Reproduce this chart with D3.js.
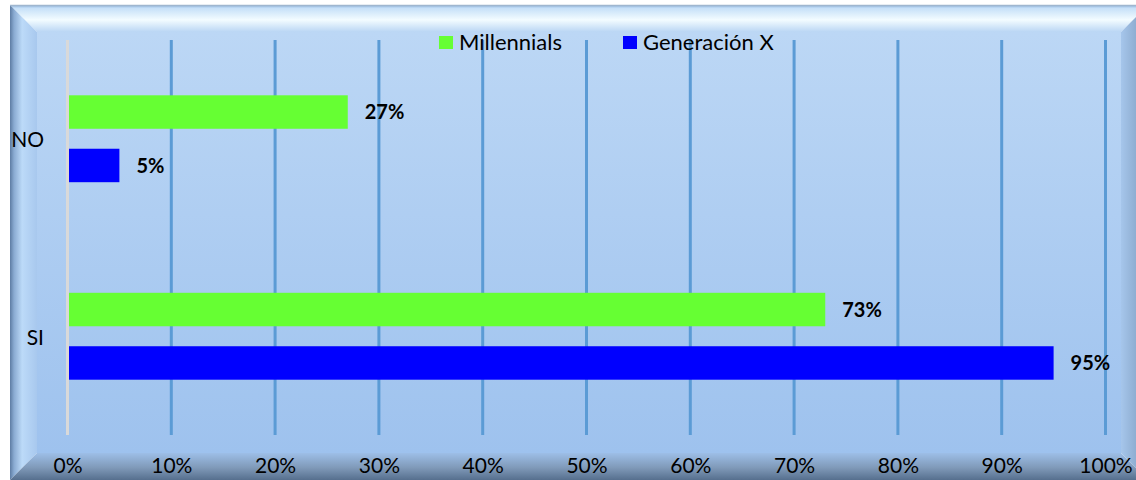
<!DOCTYPE html>
<html>
<head>
<meta charset="utf-8">
<script src="https://cdn.jsdelivr.net/npm/d3@7"></script>
<style>
  body { margin: 0; background: #fff; }
  svg { display: block; font-family: Lato, "Open Sans", sans-serif; }
</style>
</head>
<body>
<svg id="svg" width="1136" height="480"></svg>
<script>
// data
var categories = ["NO", "SI"];
var series = ["Millennials", "Generación X"];
var millennials = [0.27, 0.73];
var generacionX = [0.05, 0.95];
var seriesColors = ["#66ff33", "#0000ff"];
var ticks = [0, 0.1, 0.2, 0.3, 0.4, 0.5, 0.6, 0.7, 0.8, 0.9, 1.0];

var svg = d3.select("#svg");
var defs = svg.append("defs");

function grad(id, vertical, stops) {
  var g = defs.append("linearGradient").attr("id", id)
    .attr("x1", 0).attr("y1", 0)
    .attr("x2", vertical ? 0 : 1).attr("y2", vertical ? 1 : 0);
  stops.forEach(function (s) {
    g.append("stop").attr("offset", s[0]).attr("stop-color", s[1]);
  });
}

grad("plotBg", true, [[0, "#bcd7f5"], [1, "#9ec2ee"]]);
grad("topBev", true, [[0, "#8fb2dc"], [0.12, "#c6e0f8"], [0.55, "#f3fcff"], [1, "#bad6f4"]]);
grad("leftBev", false, [[0, "#5d7ca3"], [0.15, "#8aabd2"], [0.45, "#bcdaf8"], [1, "#a8c8ee"]]);
grad("botBev", true, [[0, "#9dbee7"], [0.55, "#7f99b8"], [1, "#566f8e"]]);
grad("rightBev", false, [[0, "#a6c6eb"], [1, "#7b9abd"]]);

// frame (beveled)
var L = 10, T = 5, R = 1148, B = 480, iL = 37, iT = 32, iR = 1121, iB = 453;
svg.append("rect").attr("x", iL).attr("y", iT).attr("width", iR - iL).attr("height", iB - iT)
  .attr("fill", "url(#plotBg)");
svg.append("polygon").attr("points", [[L, T], [R, T], [iR, iT], [iL, iT]].join(" ")).attr("fill", "url(#topBev)");
svg.append("polygon").attr("points", [[L, T], [iL, iT], [iL, iB], [L, B]].join(" ")).attr("fill", "url(#leftBev)");
svg.append("polygon").attr("points", [[iL, iB], [iR, iB], [R, B], [L, B]].join(" ")).attr("fill", "url(#botBev)");
svg.append("polygon").attr("points", [[iR, iT], [R, T], [R, B], [iR, iB]].join(" ")).attr("fill", "url(#rightBev)");
svg.append("line").attr("x1", L).attr("x2", R).attr("y1", T + 0.5).attr("y2", T + 0.5)
  .attr("stroke", "#9fb6cf").attr("stroke-width", 1.5);

// scales
var plotTop = 40, plotBottom = 435;
var x = d3.scaleLinear().domain([0, 1]).range([67.5, 1105.5]);
var y = d3.scaleBand().domain(categories).range([plotTop, plotBottom])
  .paddingInner(0.56).paddingOuter(0.28);
var ySub = d3.scaleBand().domain(series).range([0, y.bandwidth()])
  .paddingInner(0.374).paddingOuter(0);

// gridlines
svg.append("g").selectAll("line").data(ticks.slice(1)).join("line")
  .attr("x1", function (d) { return x(d); }).attr("x2", function (d) { return x(d); })
  .attr("y1", plotTop).attr("y2", plotBottom)
  .attr("stroke", "#5b9bd5").attr("stroke-width", 3);
svg.append("line").attr("x1", x(0)).attr("x2", x(0)).attr("y1", plotTop).attr("y2", plotBottom)
  .attr("stroke", "#d9d9d9").attr("stroke-width", 3);

// bars
var rows = [];
categories.forEach(function (c, i) {
  rows.push({ cat: c, s: series[0], v: millennials[i], color: seriesColors[0] });
  rows.push({ cat: c, s: series[1], v: generacionX[i], color: seriesColors[1] });
});

svg.append("g").selectAll("rect").data(rows).join("rect")
  .attr("x", x(0) + 1.5)
  .attr("y", function (d) { return y(d.cat) + ySub(d.s); })
  .attr("width", function (d) { return x(d.v) - x(0) - 1.5; })
  .attr("height", ySub.bandwidth())
  .attr("fill", function (d) { return d.color; });

svg.append("g").selectAll("text").data(rows).join("text")
  .attr("x", function (d) { return x(d.v) + 17; })
  .attr("y", function (d) { return y(d.cat) + ySub(d.s) + ySub.bandwidth() / 2; })
  .attr("dy", "0.36em")
  .attr("font-size", 20).attr("font-weight", "bold").attr("fill", "#000")
  .text(function (d) { return Math.round(d.v * 100) + "%"; });

// category labels
svg.append("g").selectAll("text").data(categories).join("text")
  .attr("x", 44).attr("text-anchor", "end")
  .attr("y", function (d) { return y(d) + y.bandwidth() / 2 + 1; })
  .attr("dy", "0.36em")
  .attr("font-size", 21).attr("fill", "#000")
  .text(function (d) { return d; });

// x axis
var xAxis = svg.append("g")
  .attr("transform", "translate(0,449)")
  .call(d3.axisBottom(x).tickValues(ticks).tickSize(0).tickPadding(0)
    .tickFormat(function (d) { return Math.round(d * 100) + "%"; }));
xAxis.select(".domain").remove();
xAxis.selectAll("text").attr("font-size", 21).attr("font-family", "Lato, 'Open Sans', sans-serif")
  .attr("fill", "#000").attr("dy", "1.15em");

// legend
var legendX = [439, 623];
var legend = svg.append("g").selectAll("g").data(series).join("g")
  .attr("transform", function (d, i) { return "translate(" + legendX[i] + ",36)"; });
legend.append("rect").attr("width", 14).attr("height", 13)
  .attr("fill", function (d, i) { return seriesColors[i]; });
legend.append("text").attr("x", 20).attr("y", 6.5).attr("dy", "0.36em")
  .attr("font-size", 22).attr("fill", "#000")
  .text(function (d) { return d; });
</script>
</body>
</html>
